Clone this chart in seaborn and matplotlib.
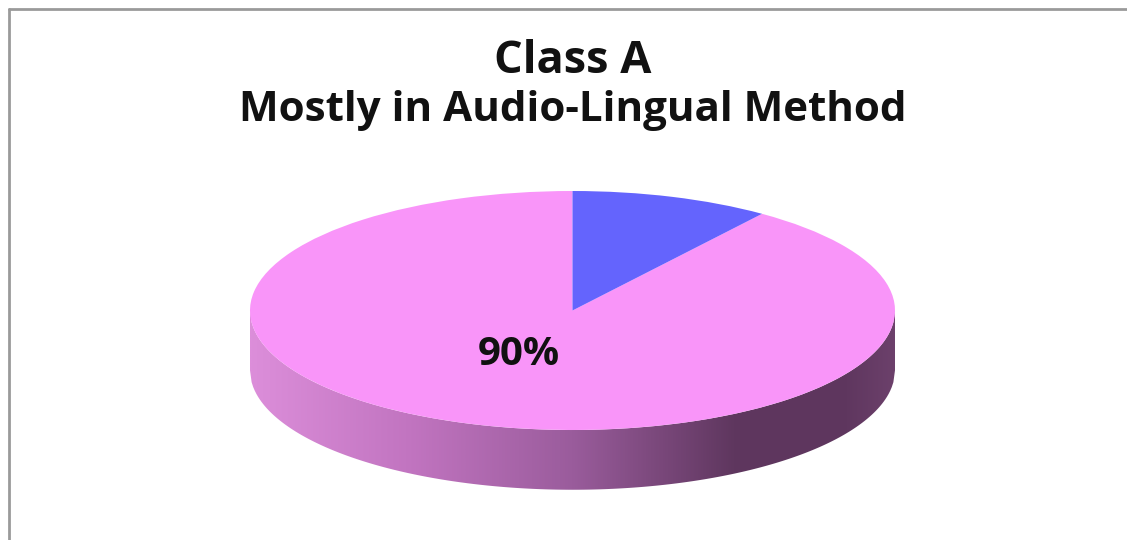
import numpy as np
import matplotlib
matplotlib.use("Agg")
import matplotlib.pyplot as plt
import seaborn as sns
from matplotlib.colors import LinearSegmentedColormap
from matplotlib.patches import PathPatch
from matplotlib.path import Path
from matplotlib.lines import Line2D

# ---- data ----
categories = ["Audio-Lingual Method", "Other"]
shares = [90, 10]
slice_colors = ["#F995F9", "#6464FD"]
title_text = "Class A"
subtitle_text = "Mostly in Audio-Lingual Method"

sns.set_theme(style="white")
plt.rcParams['font.family'] = ['Open Sans', 'DejaVu Sans']

W, H = 1127, 540
fig = plt.figure(figsize=(W / 100, H / 100), dpi=100)
fig.patch.set_facecolor('white')

# pie axes placement (pixels)
x0, x1 = 250, 895
ytop, ybot = 191, 430
b = (ybot - ytop) / 2.0
ylim = (-1.62, 1.08)
ax_top = ytop - (ylim[1] - 1) * b
ax_bot = ybot + (-1 - ylim[0]) * b
ax = fig.add_axes([x0 / W, 1 - ax_bot / H, (x1 - x0) / W, (ax_bot - ax_top) / H])

depth = 0.5

# side wall (lower half of the disc, extruded)
xs = np.linspace(-1, 1, 400)
top_edge = -np.sqrt(np.clip(1 - xs ** 2, 0, None))
verts = list(zip(xs, top_edge)) + list(zip(xs[::-1], top_edge[::-1] - depth))
verts.append(verts[0])
codes = [Path.MOVETO] + [Path.LINETO] * (len(verts) - 2) + [Path.CLOSEPOLY]
side_patch = PathPatch(Path(verts, codes), facecolor='none', edgecolor='none')
ax.add_patch(side_patch)
side_cmap = LinearSegmentedColormap.from_list(
    "side", [(0.0, "#DC8EDA"), (0.25, "#C174C0"), (0.5, "#9A5C9C"),
             (0.75, "#5F375F"), (0.92, "#5E365E"), (1.0, "#6C406B")])
grad = np.linspace(0, 1, 512).reshape(1, -1)
im = ax.imshow(grad, cmap=side_cmap, aspect='auto', extent=[-1, 1, -1 - depth, 0],
               zorder=1, interpolation='bilinear')
im.set_clip_path(side_patch)

# top face
wedges, texts, autotexts = ax.pie(
    shares, colors=slice_colors, startangle=90, counterclock=True,
    autopct=lambda p: f"{p:.0f}%" if p > 50 else "",
    pctdistance=0.42, radius=1, wedgeprops=dict(linewidth=0),
    textprops=dict(fontsize=29, fontweight='bold', color='#111111'))
for w in wedges:
    w.set_zorder(2)
for t in autotexts:
    t.set_zorder(3)
    if t.get_text():
        t.set_position((-0.165, -0.37))

ax.set_aspect('auto')
ax.set_xlim(-1, 1)
ax.set_ylim(*ylim)
ax.axis('off')

# titles
fig.text(573 / W, 1 - 73 / H, title_text, ha='center', va='baseline',
         fontsize=32.5, fontweight='bold', color='#111111')
fig.text(573 / W, 1 - 121 / H, subtitle_text, ha='center', va='baseline',
         fontsize=30.3, fontweight='bold', color='#111111')

# frame border (left and top visible)
fig.add_artist(Line2D([9 / W, 9 / W], [0, 1 - 9 / H], transform=fig.transFigure,
                      color='#9a9a9a', lw=2))
fig.add_artist(Line2D([9 / W, 1], [1 - 9 / H, 1 - 9 / H], transform=fig.transFigure,
                      color='#9a9a9a', lw=2))

fig.savefig("out.png", dpi=100, facecolor='white')
